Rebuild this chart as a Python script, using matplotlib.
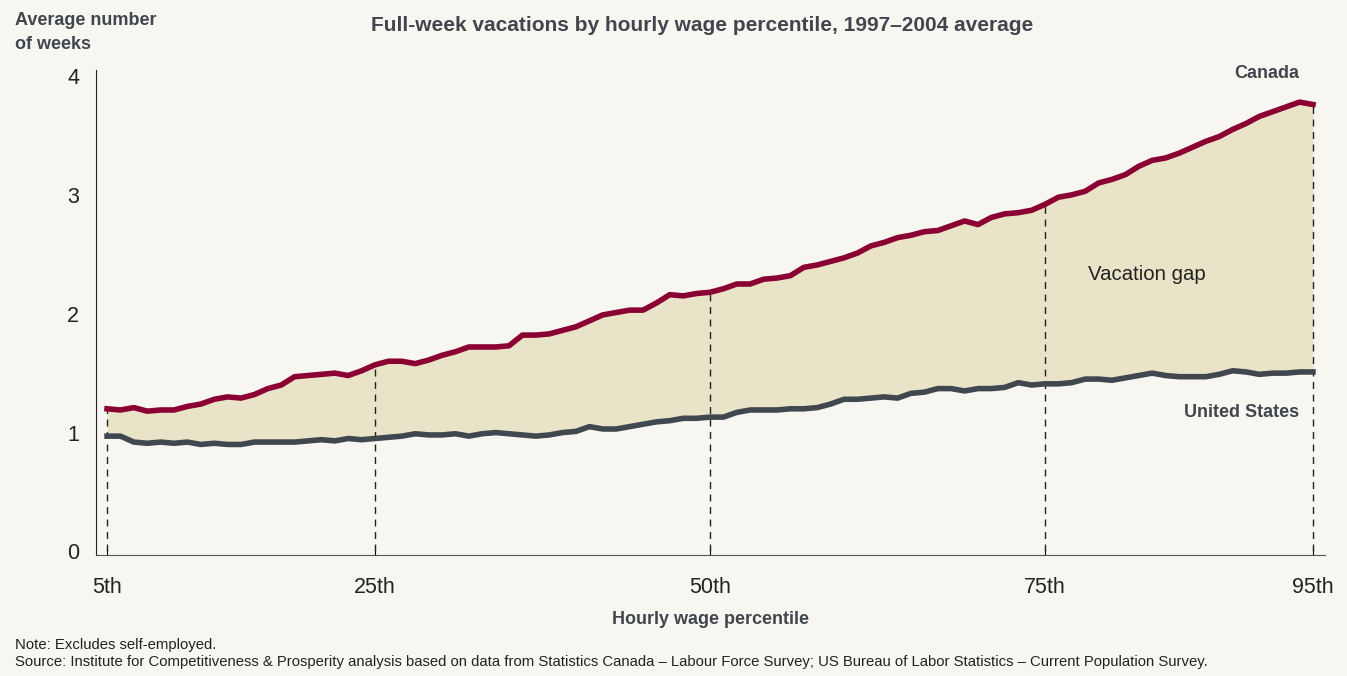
import numpy as np
import matplotlib.pyplot as plt

plt.rcParams['font.family'] = ['Liberation Sans', 'DejaVu Sans']

# percentile 5..95
percentile = np.arange(5, 96)
canada = [1.20, 1.19, 1.21, 1.18, 1.19, 1.19, 1.22, 1.24, 1.28, 1.30,
          1.29, 1.32, 1.37, 1.40, 1.47, 1.48, 1.49, 1.50, 1.48, 1.52,
          1.57, 1.60, 1.60, 1.58, 1.61, 1.65, 1.68, 1.72, 1.72, 1.72,
          1.73, 1.82, 1.82, 1.83, 1.86, 1.89, 1.94, 1.99, 2.01, 2.03,
          2.03, 2.09, 2.16, 2.15, 2.17, 2.18, 2.21, 2.25, 2.25, 2.29,
          2.30, 2.32, 2.39, 2.41, 2.44, 2.47, 2.51, 2.57, 2.60, 2.64,
          2.66, 2.69, 2.70, 2.74, 2.78, 2.75, 2.81, 2.84, 2.85, 2.87,
          2.92, 2.98, 3.00, 3.03, 3.10, 3.13, 3.17, 3.24, 3.29, 3.31,
          3.35, 3.40, 3.45, 3.49, 3.55, 3.60, 3.66, 3.70, 3.74, 3.78,
          3.76]
united_states = [0.97, 0.97, 0.92, 0.91, 0.92, 0.91, 0.92, 0.90, 0.91, 0.90,
                 0.90, 0.92, 0.92, 0.92, 0.92, 0.93, 0.94, 0.93, 0.95, 0.94,
                 0.95, 0.96, 0.97, 0.99, 0.98, 0.98, 0.99, 0.97, 0.99, 1.00,
                 0.99, 0.98, 0.97, 0.98, 1.00, 1.01, 1.05, 1.03, 1.03, 1.05,
                 1.07, 1.09, 1.10, 1.12, 1.12, 1.13, 1.13, 1.17, 1.19, 1.19,
                 1.19, 1.20, 1.20, 1.21, 1.24, 1.28, 1.28, 1.29, 1.30, 1.29,
                 1.33, 1.34, 1.37, 1.37, 1.35, 1.37, 1.37, 1.38, 1.42, 1.40,
                 1.41, 1.41, 1.42, 1.45, 1.45, 1.44, 1.46, 1.48, 1.50, 1.48,
                 1.47, 1.47, 1.47, 1.49, 1.52, 1.51, 1.49, 1.50, 1.50, 1.51,
                 1.51]
tick_pos = [5, 25, 50, 75, 95]
tick_labels = ['5th', '25th', '50th', '75th', '95th']

bg = '#f8f6f0'
text_col = '#41464e'
canada = np.array(canada)
united_states = np.array(united_states)

fig = plt.figure(figsize=(13.47, 6.76), dpi=100, facecolor=bg)
ax = fig.add_axes([0.0713, 0.179, 0.9124, 0.7174], facecolor=bg)

ax.fill_between(percentile, united_states, canada, color='#e9e3c8', lw=0, zorder=1)
for p in tick_pos:
    top = canada[percentile == p][0]
    ax.plot([p, p], [0, top], color='#222222', lw=1, ls=(0, (5, 4)), zorder=2)
ax.plot(percentile, canada, color='#8b0033', lw=4, zorder=3, solid_joinstyle='round')
ax.plot(percentile, united_states, color='#41474f', lw=4, zorder=3, solid_joinstyle='round')

ax.set_xlim(4.18, 95.9)
ax.set_ylim(-0.03, 4.05)
ax.set_xticks(tick_pos)
ax.set_xticklabels(tick_labels)
ax.set_yticks([0, 1, 2, 3, 4])
ax.tick_params(axis='x', direction='in', length=6, width=0.8, pad=16,
               labelsize=15.5, labelcolor='#222222')
ax.tick_params(axis='y', length=0, pad=12, labelsize=15.5, labelcolor='#222222')
for side in ['top', 'right']:
    ax.spines[side].set_visible(False)
ax.spines['left'].set_color('#222222')
ax.spines['bottom'].set_color('#555555')

ax.set_xlabel('Hourly wage percentile', fontsize=13, fontweight='bold',
              color=text_col, labelpad=9)

ax.text(94, 4.02, 'Canada', ha='right', va='center', fontsize=13,
        fontweight='bold', color=text_col)
ax.text(94, 1.17, 'United States', ha='right', va='center', fontsize=13,
        fontweight='bold', color=text_col)
ax.text(82.6, 2.33, 'Vacation gap', ha='center', va='center', fontsize=14.7,
        color='#222222')

fig.text(0.521, 0.963, 'Full-week vacations by hourly wage percentile, 1997\u20132004 average',
         ha='center', va='center', fontsize=15, fontweight='bold', color=text_col)
fig.text(0.011, 0.982, 'Average number\nof weeks', ha='left', va='top',
         fontsize=13, fontweight='bold', color=text_col, linespacing=1.5)
fig.text(0.011, 0.046, 'Note: Excludes self-employed.', ha='left', va='center',
         fontsize=10.7, color='#222222')
fig.text(0.011, 0.021,
         'Source: Institute for Competitiveness & Prosperity analysis based on data from '
         'Statistics Canada \u2013 Labour Force Survey; US Bureau of Labor Statistics \u2013 '
         'Current Population Survey.',
         ha='left', va='center', fontsize=10.7, color='#222222')

fig.savefig('out.png', dpi=100, facecolor=bg)
